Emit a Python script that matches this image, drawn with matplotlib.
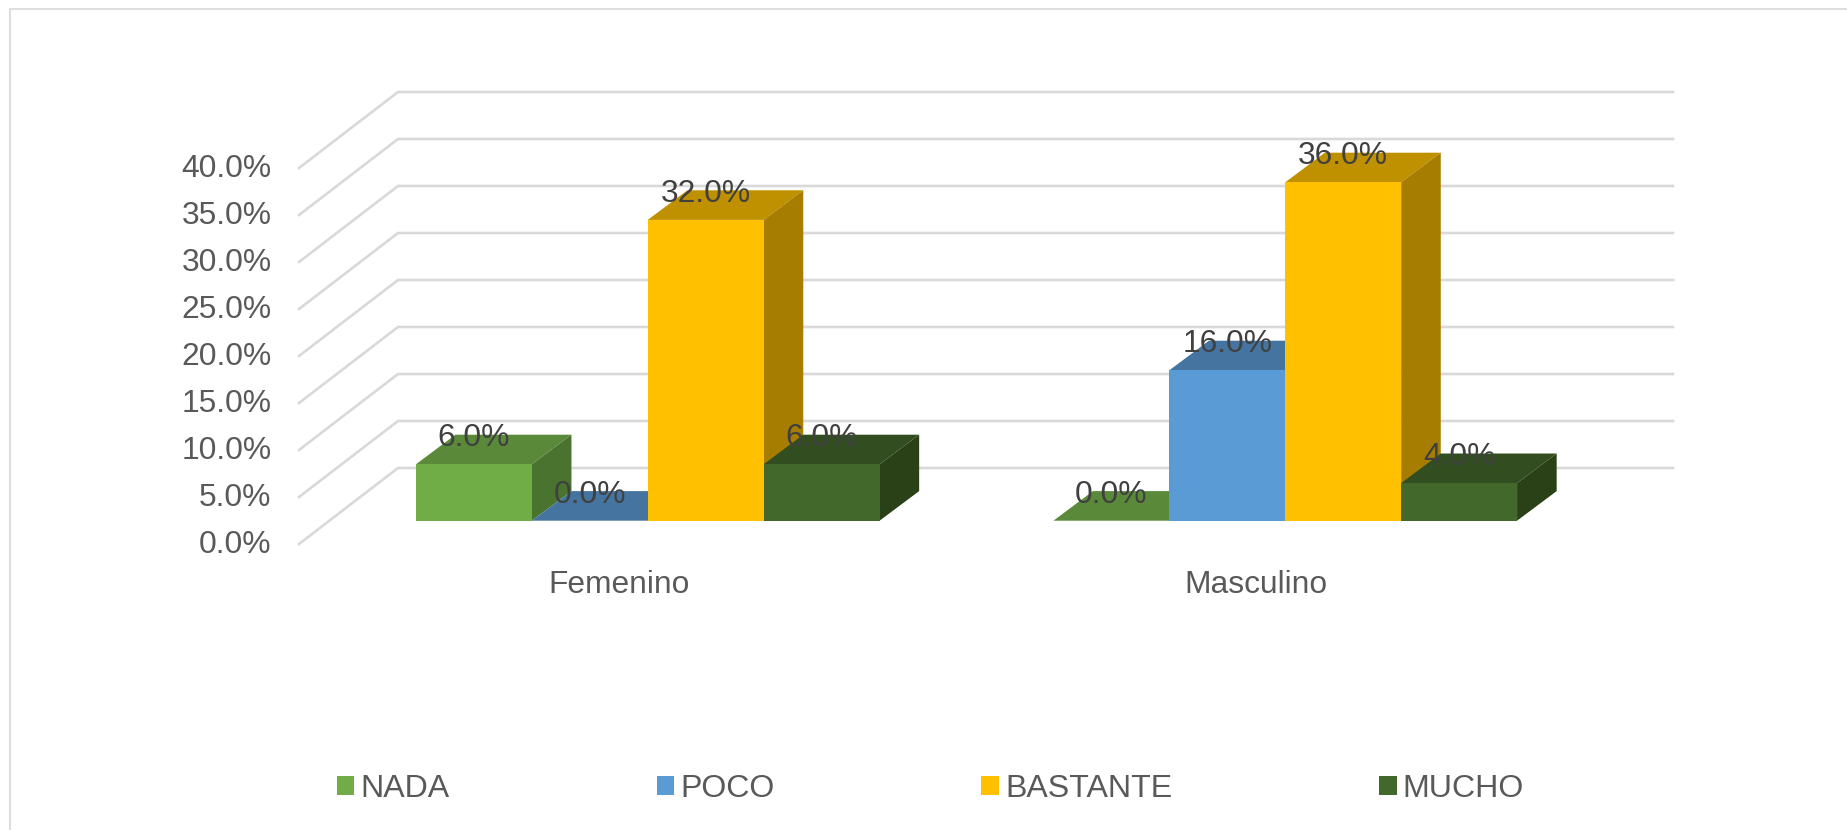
import numpy as np
from matplotlib import pyplot as plt
from matplotlib.patches import Polygon, Rectangle

plt.rcParams['font.family'] = ['Liberation Sans', 'DejaVu Sans']

categories = ['Femenino', 'Masculino']
series = ['NADA', 'POCO', 'BASTANTE', 'MUCHO']
nada = [6.0, 0.0]
poco = [0.0, 16.0]
bastante = [32.0, 36.0]
mucho = [6.0, 4.0]
ticks = [0, 5, 10, 15, 20, 25, 30, 35, 40]

# front, top, side
colors = [('#70AD47', '#5A8A39', '#4B7330'),
          ('#5B9BD5', '#44749F', '#3A6388'),
          ('#FFC000', '#BF9000', '#A67D00'),
          ('#43682B', '#324E20', '#2A4117')]

W, H = 1847, 830
fig = plt.figure(figsize=(W / 100, H / 100), dpi=100, facecolor='white')

# axes = the plane of the bar fronts, the rest is sheared off it in pixels
L, R, T, B = 329.0, 1604.0, 144.7, 520.7
ax = fig.add_axes([L / W, 1 - B / H, (R - L) / W, (B - T) / H])
ax.set_xlim(-0.5, 1.5)
ax.set_ylim(0, 40)
ax.axis('off')

ux = 2.0 / (R - L)
uy = 40.0 / (B - T)

# chart border
fig.add_artist(Rectangle((9.5 / W, -0.02), 1.1, 1 - 9.5 / H + 0.02, transform=fig.transFigure,
                         fill=False, edgecolor='#DEDEDE', linewidth=1.5))

# walls: back plane 69,52.7 px behind the bars, front edge 30,23.3 px before
for t in ticks:
    xs = [-0.5 - 30 * ux, -0.5 + 69 * ux, 1.5 + 69 * ux]
    ys = [t - 23.3 * uy, t + 52.7 * uy, t + 52.7 * uy]
    ax.plot(xs, ys, color='#D9D9D9', lw=1.9, clip_on=False, zorder=1, solid_joinstyle='miter')
    ax.text(-0.5 - 57.5 * ux, t - 21 * uy, '%.1f%%' % t, ha='right', va='center_baseline',
            fontsize=22.9, color='#595959', clip_on=False)

width = 1 / 5.5
dx, dy = 39.6 * ux, 29.6 * uy
values = [nada, poco, bastante, mucho]
z = 2
for i, name in enumerate(series):
    for j, cat in enumerate(categories):
        v = values[i][j]
        x0 = j + (i - 2) * width
        x1 = x0 + width
        ax.add_patch(Polygon([(x0, v), (x1, v), (x1 + dx, v + dy), (x0 + dx, v + dy)], closed=True,
                             facecolor=colors[i][1], edgecolor='none', clip_on=False, zorder=z))
        if v > 0:
            ax.add_patch(Polygon([(x1, 0), (x1 + dx, dy), (x1 + dx, v + dy), (x1, v)], closed=True,
                                 facecolor=colors[i][2], edgecolor='none', clip_on=False, zorder=z))
    ax.bar(np.arange(len(categories)) + (i - 1.5) * width, values[i], width, color=colors[i][0],
           label=name, clip_on=False, zorder=z + 0.5)
    z += 1

for i, name in enumerate(series):
    for j, cat in enumerate(categories):
        v = values[i][j]
        ax.text(j + (i - 1.5) * width, v + dy, '%.1f%%' % v, ha='center', va='center_baseline',
                fontsize=22.9, color='#404040', zorder=20, clip_on=False)

for j, cat in enumerate(categories):
    ax.text(j - 29 * ux, -60.5 * uy, cat, ha='center', va='center_baseline', fontsize=22.9,
            color='#595959', clip_on=False)

fig.legend(loc='center left', bbox_to_anchor=(337 / W, 1 - 788.5 / H), ncol=4, frameon=False,
           fontsize=23.1, labelcolor='#595959', handlelength=0.545, handleheight=0.545,
           handletextpad=0.19, columnspacing=6.45, borderpad=0, borderaxespad=0)

fig.savefig('out.png', dpi=100)
